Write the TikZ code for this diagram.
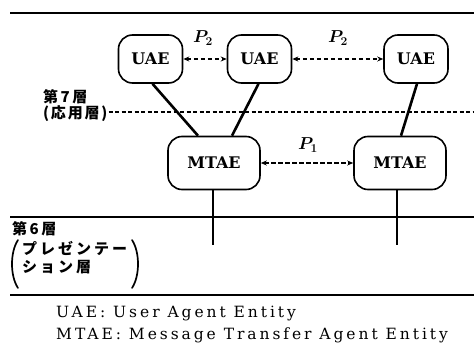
\documentclass[tikz,border=0pt]{standalone}
\usepackage{fontspec}
\usepackage{bm}
\newfontfamily\jp{Noto Sans CJK JP}
\newfontfamily\jpw{Noto Sans CJK JP}[LetterSpace=12]
\newfontfamily\ser{DejaVu Serif}
\usetikzlibrary{arrows.meta,calc}
\tikzset{
  ent/.style={draw, line width=1.6pt, rounded corners=14pt, font=\fontsize{16}{18}\selectfont\ser\bfseries, inner sep=0pt},
  uae/.style={ent, minimum width=64pt, minimum height=48pt},
  mtae/.style={ent, minimum width=92pt, minimum height=53pt},
  proto/.style={dash pattern=on 4.5pt off 2.5pt, line width=1.4pt, {Stealth[length=6pt,width=5pt]}-{Stealth[length=6pt,width=5pt]}},
  link/.style={line width=2.6pt},
  layer/.style={line width=1.6pt},
  paren/.style={line width=1.7pt, line cap=round},
  plabel/.style={font=\fontsize{17}{19}\selectfont},
  jlabel/.style={font=\fontsize{15}{17}\selectfont\jpw\bfseries, inner sep=0pt},
  jwide/.style={jlabel, font=\fontsize{15}{17}\selectfont\jpw\bfseries\addfontfeature{LetterSpace=20}},
  legend/.style={font=\fontsize{15.5}{17}\selectfont\ser\addfontfeature{LetterSpace=19}, inner sep=0pt, anchor=west}
}
\begin{document}
\begin{tikzpicture}[x=1pt,y=-1pt]
\useasboundingbox (0,0) rectangle (474,345);
% layer lines
\coordinate (t0) at (10,13); \coordinate (t1) at (474,13);
\coordinate (m0) at (10,217); \coordinate (m1) at (474,217);
\coordinate (b0) at (10,295); \coordinate (b1) at (474,295);
\draw[layer] (t0) -- (t1);
\draw[layer] (m0) -- (m1);
\draw[layer] (b0) -- (b1);
% nodes
\node[uae] (u1) at (150.5,59) {UAE};
\node[uae] (u2) at (259.5,59) {UAE};
\node[uae] (u3) at (416,59) {UAE};
\node[mtae] (m1n) at (214,163) {MTAE};
\node[mtae] (m2n) at (400,163) {MTAE};
% labels
\node[jlabel, anchor=west] (l7a) at (43,97) {第\,7\,層};
\node[jlabel, anchor=west] (l7b) at (43,114) {(応用層)};
\coordinate (d1) at (474,112);
\draw[line width=1.3pt, dash pattern=on 4pt off 2.5pt] (l7b.east) ++(1,-2) coordinate (d0) -- (d1);
\node[jlabel, anchor=west] (l6a) at (12,229) {第\,6\,層};
\node[jwide, anchor=west] (l6b) at (22,248) {プレゼンテー};
\node[jwide, anchor=west] (l6c) at (22,267) {ション層};
\draw[paren] (18,240) .. controls (10,252) and (10,276) .. (18,288);
\draw[paren] (132,240) .. controls (140,252) and (140,276) .. (132,288);
% connectors
\draw[link] ([xshift=2pt]u1.south) -- ([xshift=-16pt]m1n.north);
\draw[link] ([xshift=-1pt]u2.south) -- ([xshift=18pt]m1n.north);
\draw[link] ([xshift=1pt]u3.south) -- ([xshift=1pt]m2n.north);
\coordinate (v1) at (213,245);
\coordinate (v2) at (397,245);
\draw[link] (m1n.south -| v1) -- (v1);
\draw[link] (m2n.south -| v2) -- (v2);
\draw[proto] (u1.east) -- (u2.west);
\draw[proto] (u2.east) -- (u3.west);
\draw[proto] (m1n.east) -- (m2n.west);
\node[plabel] (p2a) at (203,38) {$\bm{P_2}$};
\node[plabel] (p2b) at (338,38) {$\bm{P_2}$};
\node[plabel] (p1) at (308,145) {$\bm{P_1}$};
% legend
\node[legend] (lg1) at (56,314) {UAE: User Agent Entity};
\node[legend] (lg2) at (56,335) {MTAE: Message Transfer Agent Entity};
\end{tikzpicture}
\end{document}
